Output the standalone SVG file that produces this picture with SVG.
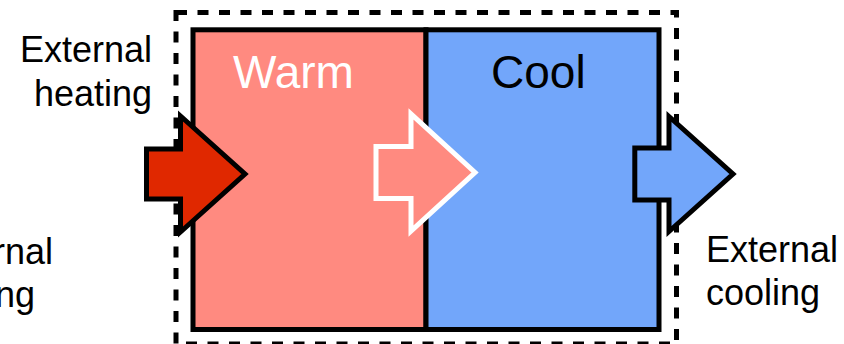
<svg xmlns="http://www.w3.org/2000/svg" width="844" height="344" viewBox="0 0 844 344">
<style>
  .lbl { font-family: "Liberation Sans", Arial, Helvetica, sans-serif; font-size: 36px; fill: #000; }
  .big { font-family: "Liberation Sans", Arial, Helvetica, sans-serif; font-size: 46px; }
  .box { stroke: #000; stroke-width: 5; }
  .arrow { stroke-width: 5; stroke-linejoin: miter; stroke-miterlimit: 10; }
</style>
<rect width="844" height="344" fill="#fff"/>
<g id="boundary">
  <rect x="176" y="12.5" width="500.5" height="331.5" fill="none" stroke="#000" stroke-width="5" stroke-dasharray="11 10.5"/>
</g>
<g id="warm">
  <rect class="box" x="193" y="29.8" width="233" height="299.7" fill="#FF8A80"/>
  <text class="big" x="233" y="88" fill="#fff">Warm</text>
</g>
<g id="cool">
  <rect class="box" x="426" y="29.8" width="233" height="299.7" fill="#72A6FA"/>
  <text class="big" x="491" y="88" fill="#000">Cool</text>
</g>
<g id="connectors">
  <polygon class="arrow" points="146.5,149 180.5,149 180.5,116 245,174 180.5,232 180.5,199 146.5,199" fill="#E02800" stroke="#000"/>
  <polygon class="arrow" points="376,146.5 411,146.5 411,114 475,172.5 411,231 411,198.5 376,198.5" fill="#FF8A80" stroke="#fff"/>
  <polygon class="arrow" points="634.8,148 669,148 669,116.5 733,174 669,231.5 669,200 634.8,200" fill="#72A6FA" stroke="#000"/>
</g>
<g id="label-heating">
  <text class="lbl" x="152" y="62" text-anchor="end">External</text>
  <text class="lbl" x="152" y="106" text-anchor="end">heating</text>
</g>
<g id="label-cooling-left">
  <text class="lbl" x="-79" y="264">External</text>
  <text class="lbl" x="-79" y="307">cooling</text>
</g>
<g id="label-cooling">
  <text class="lbl" x="706" y="262">External</text>
  <text class="lbl" x="706" y="305">cooling</text>
</g>
</svg>
